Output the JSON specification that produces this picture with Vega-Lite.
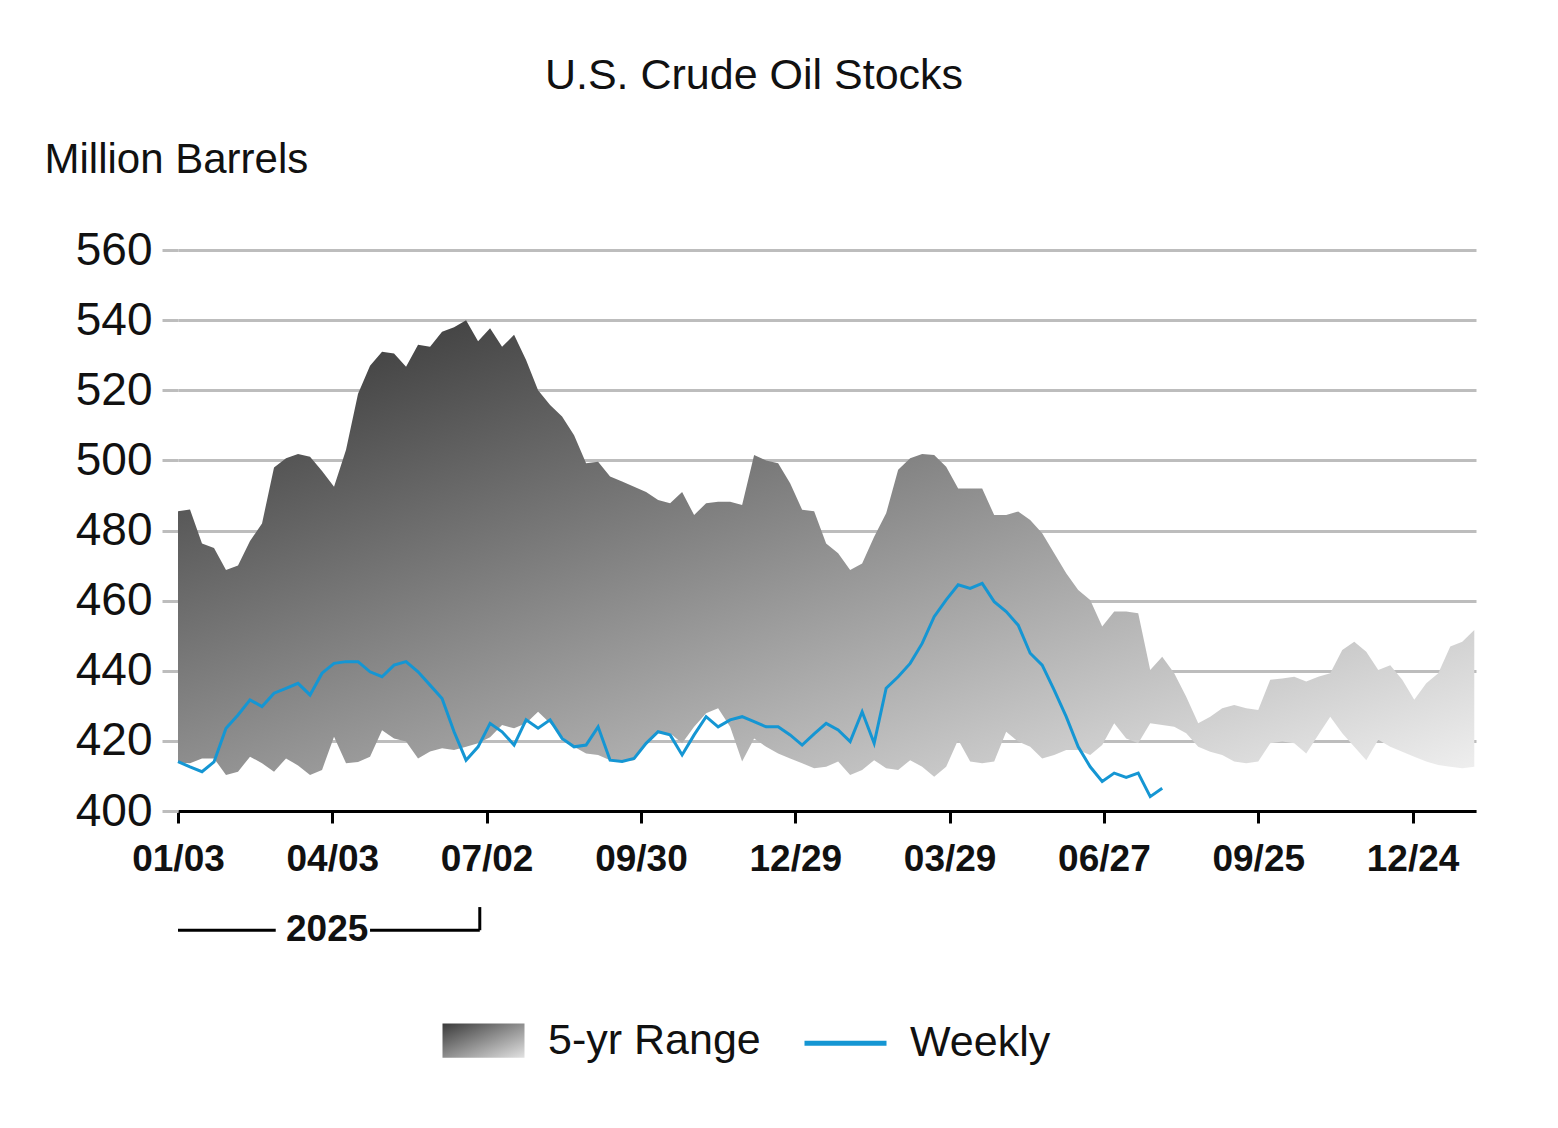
{
  "$schema": "https://vega.github.io/schema/vega-lite/v6.json",
  "width": 1298,
  "height": 561,
  "autosize": "none",
  "padding": {"left": 178, "top": 250, "right": 82, "bottom": 317},
  "background": "white",
  "config": {"font": "Liberation Sans", "view": {"stroke": null}},
  "title": {
    "text": "U.S. Crude Oil Stocks",
    "fontSize": 43,
    "fontWeight": "normal",
    "color": "#111111",
    "anchor": "middle",
    "frame": "bounds",
    "dx": -6,
    "offset": 40
  },
  "datasets": {
    "range": [
      {"date": "2025-01-03", "upper": 485.5, "lower": 413.8, "weekly": 414.1},
      {"date": "2025-01-10", "upper": 486.0, "lower": 413.6, "weekly": 412.6},
      {"date": "2025-01-17", "upper": 476.3, "lower": 415.0, "weekly": 411.2},
      {"date": "2025-01-24", "upper": 475.0, "lower": 415.0, "weekly": 414.0},
      {"date": "2025-01-31", "upper": 468.7, "lower": 410.3, "weekly": 423.6},
      {"date": "2025-02-07", "upper": 470.0, "lower": 411.2, "weekly": 427.4},
      {"date": "2025-02-14", "upper": 477.0, "lower": 415.5, "weekly": 431.7},
      {"date": "2025-02-21", "upper": 482.0, "lower": 413.6, "weekly": 429.8},
      {"date": "2025-02-28", "upper": 498.0, "lower": 411.2, "weekly": 433.6},
      {"date": "2025-03-07", "upper": 500.6, "lower": 415.0, "weekly": 435.0},
      {"date": "2025-03-14", "upper": 501.8, "lower": 413.0, "weekly": 436.4},
      {"date": "2025-03-21", "upper": 501.0, "lower": 410.3, "weekly": 433.1},
      {"date": "2025-03-28", "upper": 497.0, "lower": 411.7, "weekly": 439.3},
      {"date": "2025-04-04", "upper": 492.5, "lower": 421.2, "weekly": 442.1},
      {"date": "2025-04-11", "upper": 503.0, "lower": 413.6, "weekly": 442.6},
      {"date": "2025-04-18", "upper": 519.0, "lower": 414.0, "weekly": 442.6},
      {"date": "2025-04-25", "upper": 527.0, "lower": 415.5, "weekly": 439.7},
      {"date": "2025-05-02", "upper": 531.0, "lower": 423.0, "weekly": 438.3},
      {"date": "2025-05-09", "upper": 530.5, "lower": 420.7, "weekly": 441.6},
      {"date": "2025-05-16", "upper": 526.7, "lower": 419.8, "weekly": 442.6},
      {"date": "2025-05-23", "upper": 533.0, "lower": 415.0, "weekly": 439.7},
      {"date": "2025-05-30", "upper": 532.4, "lower": 417.0, "weekly": 435.9},
      {"date": "2025-06-06", "upper": 536.7, "lower": 417.9, "weekly": 432.1},
      {"date": "2025-06-13", "upper": 538.0, "lower": 417.4, "weekly": 422.6},
      {"date": "2025-06-20", "upper": 540.0, "lower": 418.3, "weekly": 414.5},
      {"date": "2025-06-27", "upper": 534.0, "lower": 419.3, "weekly": 418.3},
      {"date": "2025-07-04", "upper": 537.7, "lower": 421.0, "weekly": 425.0},
      {"date": "2025-07-11", "upper": 532.4, "lower": 424.5, "weekly": 422.6},
      {"date": "2025-07-18", "upper": 535.8, "lower": 423.6, "weekly": 418.8},
      {"date": "2025-07-25", "upper": 528.6, "lower": 425.0, "weekly": 426.0},
      {"date": "2025-08-01", "upper": 520.0, "lower": 428.3, "weekly": 423.6},
      {"date": "2025-08-08", "upper": 515.8, "lower": 425.0, "weekly": 426.0},
      {"date": "2025-08-15", "upper": 512.5, "lower": 421.2, "weekly": 420.7},
      {"date": "2025-08-22", "upper": 507.2, "lower": 418.3, "weekly": 418.3},
      {"date": "2025-08-29", "upper": 499.2, "lower": 416.4, "weekly": 418.8},
      {"date": "2025-09-05", "upper": 499.6, "lower": 416.0, "weekly": 424.0},
      {"date": "2025-09-12", "upper": 495.4, "lower": 414.5, "weekly": 414.5},
      {"date": "2025-09-19", "upper": 494.0, "lower": 414.1, "weekly": 414.1},
      {"date": "2025-09-26", "upper": 492.5, "lower": 414.5, "weekly": 415.0},
      {"date": "2025-10-03", "upper": 491.0, "lower": 419.3, "weekly": 419.3},
      {"date": "2025-10-10", "upper": 488.7, "lower": 422.2, "weekly": 422.6},
      {"date": "2025-10-17", "upper": 487.8, "lower": 422.2, "weekly": 421.7},
      {"date": "2025-10-24", "upper": 491.0, "lower": 419.3, "weekly": 416.0},
      {"date": "2025-10-31", "upper": 484.4, "lower": 424.0, "weekly": 421.7},
      {"date": "2025-11-07", "upper": 487.8, "lower": 427.9, "weekly": 426.9},
      {"date": "2025-11-14", "upper": 488.2, "lower": 429.3, "weekly": 424.0},
      {"date": "2025-11-21", "upper": 488.2, "lower": 424.0, "weekly": 426.0},
      {"date": "2025-11-28", "upper": 487.3, "lower": 414.1, "weekly": 426.9},
      {"date": "2025-12-05", "upper": 501.5, "lower": 420.7, "weekly": 425.5},
      {"date": "2025-12-12", "upper": 500.0, "lower": 418.3, "weekly": 424.0},
      {"date": "2025-12-19", "upper": 499.2, "lower": 416.4, "weekly": 424.0},
      {"date": "2025-12-26", "upper": 493.5, "lower": 415.0, "weekly": 421.7},
      {"date": "2026-01-02", "upper": 485.9, "lower": 413.6, "weekly": 418.8},
      {"date": "2026-01-09", "upper": 485.5, "lower": 412.2, "weekly": 422.0},
      {"date": "2026-01-16", "upper": 476.3, "lower": 412.6, "weekly": 425.0},
      {"date": "2026-01-23", "upper": 473.5, "lower": 414.1, "weekly": 423.1},
      {"date": "2026-01-30", "upper": 468.7, "lower": 410.3, "weekly": 419.8},
      {"date": "2026-02-06", "upper": 470.6, "lower": 411.7, "weekly": 428.3},
      {"date": "2026-02-13", "upper": 478.2, "lower": 414.5, "weekly": 419.3},
      {"date": "2026-02-20", "upper": 484.9, "lower": 412.2, "weekly": 435.0},
      {"date": "2026-02-27", "upper": 497.3, "lower": 411.7, "weekly": 438.3},
      {"date": "2026-03-06", "upper": 500.6, "lower": 414.5, "weekly": 442.1},
      {"date": "2026-03-13", "upper": 501.8, "lower": 412.6, "weekly": 447.8},
      {"date": "2026-03-20", "upper": 501.5, "lower": 409.8, "weekly": 455.4},
      {"date": "2026-03-27", "upper": 498.2, "lower": 412.6, "weekly": 460.2},
      {"date": "2026-04-03", "upper": 492.0, "lower": 420.3, "weekly": 464.5},
      {"date": "2026-04-10", "upper": 492.0, "lower": 414.1, "weekly": 463.5},
      {"date": "2026-04-17", "upper": 492.0, "lower": 413.6, "weekly": 464.9},
      {"date": "2026-04-24", "upper": 484.4, "lower": 414.1, "weekly": 459.7},
      {"date": "2026-05-01", "upper": 484.4, "lower": 422.6, "weekly": 456.9},
      {"date": "2026-05-08", "upper": 485.4, "lower": 419.8, "weekly": 453.0},
      {"date": "2026-05-15", "upper": 483.0, "lower": 418.3, "weekly": 445.0},
      {"date": "2026-05-22", "upper": 479.2, "lower": 415.0, "weekly": 441.6},
      {"date": "2026-05-29", "upper": 473.5, "lower": 416.0, "weekly": 434.5},
      {"date": "2026-06-05", "upper": 467.8, "lower": 417.4, "weekly": 426.9},
      {"date": "2026-06-12", "upper": 463.0, "lower": 417.4, "weekly": 418.3},
      {"date": "2026-06-19", "upper": 460.2, "lower": 416.0, "weekly": 412.6},
      {"date": "2026-06-26", "upper": 452.6, "lower": 418.8, "weekly": 408.4},
      {"date": "2026-07-03", "upper": 456.9, "lower": 425.0, "weekly": 410.8},
      {"date": "2026-07-10", "upper": 456.9, "lower": 420.7, "weekly": 409.6},
      {"date": "2026-07-17", "upper": 456.4, "lower": 419.3, "weekly": 410.8},
      {"date": "2026-07-24", "upper": 440.2, "lower": 425.0, "weekly": 404.1},
      {"date": "2026-07-31", "upper": 444.0, "lower": 424.5, "weekly": 406.5},
      {"date": "2026-08-07", "upper": 439.3, "lower": 424.0, "weekly": null},
      {"date": "2026-08-14", "upper": 432.6, "lower": 422.2, "weekly": null},
      {"date": "2026-08-21", "upper": 425.0, "lower": 418.3, "weekly": null},
      {"date": "2026-08-28", "upper": 426.9, "lower": 416.9, "weekly": null},
      {"date": "2026-09-04", "upper": 429.3, "lower": 416.0, "weekly": null},
      {"date": "2026-09-11", "upper": 430.2, "lower": 414.1, "weekly": null},
      {"date": "2026-09-18", "upper": 429.3, "lower": 413.6, "weekly": null},
      {"date": "2026-09-25", "upper": 428.8, "lower": 414.1, "weekly": null},
      {"date": "2026-10-02", "upper": 437.4, "lower": 419.3, "weekly": null},
      {"date": "2026-10-09", "upper": 437.8, "lower": 419.8, "weekly": null},
      {"date": "2026-10-16", "upper": 438.3, "lower": 419.3, "weekly": null},
      {"date": "2026-10-23", "upper": 436.9, "lower": 416.4, "weekly": null},
      {"date": "2026-10-30", "upper": 438.3, "lower": 421.7, "weekly": null},
      {"date": "2026-11-06", "upper": 439.3, "lower": 426.9, "weekly": null},
      {"date": "2026-11-13", "upper": 445.9, "lower": 422.2, "weekly": null},
      {"date": "2026-11-20", "upper": 448.3, "lower": 418.3, "weekly": null},
      {"date": "2026-11-27", "upper": 445.4, "lower": 414.5, "weekly": null},
      {"date": "2026-12-04", "upper": 440.2, "lower": 420.3, "weekly": null},
      {"date": "2026-12-11", "upper": 441.6, "lower": 418.3, "weekly": null},
      {"date": "2026-12-18", "upper": 437.4, "lower": 416.9, "weekly": null},
      {"date": "2026-12-25", "upper": 431.7, "lower": 415.5, "weekly": null},
      {"date": "2027-01-01", "upper": 436.4, "lower": 414.1, "weekly": null},
      {"date": "2027-01-08", "upper": 439.3, "lower": 413.1, "weekly": null},
      {"date": "2027-01-15", "upper": 446.9, "lower": 412.6, "weekly": null},
      {"date": "2027-01-22", "upper": 448.3, "lower": 412.2, "weekly": null},
      {"date": "2027-01-29", "upper": 451.6, "lower": 412.6, "weekly": null}
    ],
    "bracket": [
      {"x": "2025-01-03", "x2": "2025-03-01", "y": 366, "y2": 366},
      {"x": "2025-04-25", "x2": "2025-06-28", "y": 366, "y2": 366},
      {"x": "2025-06-28", "x2": "2025-06-28", "y": 366, "y2": 372.6}
    ],
    "yearlabel": [
      {"date": "2025-03-31", "y": 366, "label": "2025"}
    ]
  },
  "layer": [
    {
      "data": {"name": "range"},
      "mark": {
        "type": "area",
        "opacity": 1,
        "fill": {
          "gradient": "linear",
          "x1": 0, "y1": 0, "x2": 1, "y2": 1,
          "stops": [
            {"offset": 0, "color": "#303030"},
            {"offset": 1, "color": "#f0f0f0"}
          ]
        }
      },
      "encoding": {
        "x": {
          "field": "date",
          "type": "temporal",
          "title": null,
          "scale": {
            "type": "utc",
            "nice": false,
            "domain": [
              {"year": 2025, "month": 1, "date": 3, "utc": true},
              {"year": 2027, "month": 1, "date": 30, "utc": true}
            ]
          },
          "axis": {
            "values": [
              {"year": 2025, "month": 1, "date": 3, "utc": true},
              {"year": 2025, "month": 4, "date": 3, "utc": true},
              {"year": 2025, "month": 7, "date": 2, "utc": true},
              {"year": 2025, "month": 9, "date": 30, "utc": true},
              {"year": 2025, "month": 12, "date": 29, "utc": true},
              {"year": 2026, "month": 3, "date": 29, "utc": true},
              {"year": 2026, "month": 6, "date": 27, "utc": true},
              {"year": 2026, "month": 9, "date": 25, "utc": true},
              {"year": 2026, "month": 12, "date": 24, "utc": true}
            ],
            "labelExpr": "utcFormat(datum.value, '%m/%d')",
            "grid": false,
            "domainColor": "#000000",
            "domainWidth": 3,
            "tickColor": "#000000",
            "tickWidth": 3,
            "tickSize": 12,
            "labelFont": "Liberation Sans",
            "labelFontSize": 37,
            "labelFontWeight": "bold",
            "labelColor": "#111111",
            "labelPadding": 18,
            "labelFlush": false,
            "labelOverlap": false,
            "labelBound": false
          }
        },
        "y": {
          "field": "upper",
          "type": "quantitative",
          "title": "Million Barrels",
          "scale": {"domain": [400, 560], "nice": false, "zero": false},
          "axis": {
            "values": [400, 420, 440, 460, 480, 500, 520, 540, 560],
            "domain": false,
            "grid": true,
            "gridColor": "#bdbdbd",
            "gridWidth": 3,
            "tickColor": "#bdbdbd",
            "tickWidth": 3,
            "tickSize": 16,
            "labelFont": "Liberation Sans",
            "labelFontSize": 46,
            "labelColor": "#111111",
            "labelPadding": 10,
            "titleFont": "Liberation Sans",
            "titleFontSize": 42,
            "titleFontWeight": "normal",
            "titleColor": "#111111",
            "titleAngle": 0,
            "titleAlign": "left",
            "titleBaseline": "alphabetic",
            "titleX": -134,
            "titleY": -78
          }
        },
        "y2": {"field": "lower"}
      }
    },
    {
      "data": {"name": "range"},
      "mark": {"type": "line", "strokeWidth": 3},
      "encoding": {
        "x": {"field": "date", "type": "temporal", "title": null},
        "y": {"field": "weekly", "type": "quantitative", "title": "Million Barrels"},
        "stroke": {
          "datum": "Weekly",
          "type": "nominal",
          "scale": {"domain": ["5-yr Range", "Weekly"], "range": ["transparent", "#1596d3"]},
          "legend": {
            "title": null,
            "orient": "none",
            "legendX": 262,
            "legendY": 747,
            "direction": "horizontal",
            "padding": 0,
            "symbolSize": 6724,
            "symbolType": "M-1,-0.42H1V0.42H-1Z",
            "symbolStrokeWidth": 5,
            "labelFont": "Liberation Sans",
            "labelFontSize": 43,
            "labelColor": "#111111",
            "labelOffset": 21,
            "labelLimit": 400,
            "columnPadding": 33,
            "encode": {
              "symbols": {
                "update": {
                  "shape": {"signal": "datum.value === 'Weekly' ? 'M-1,0H1' : 'M-1,-0.42H1V0.42H-1Z'"},
                  "fill": [
                    {"test": "datum.value === 'Weekly'", "value": "transparent"},
                    {"value": {
                      "gradient": "linear",
                      "x1": 0, "y1": 0, "x2": 1, "y2": 1,
                      "stops": [
                        {"offset": 0, "color": "#3a3a3a"},
                        {"offset": 1, "color": "#e2e2e2"}
                      ]
                    }}
                  ],
                  "strokeWidth": {"value": 5},
                  "opacity": {"value": 1}
                }
              }
            }
          }
        }
      }
    },
    {
      "data": {"name": "bracket"},
      "mark": {"type": "rule", "color": "#000000", "strokeWidth": 3},
      "encoding": {
        "x": {"field": "x", "type": "temporal", "title": null},
        "x2": {"field": "x2"},
        "y": {"field": "y", "type": "quantitative", "title": "Million Barrels"},
        "y2": {"field": "y2"}
      }
    },
    {
      "data": {"name": "yearlabel"},
      "mark": {"type": "text", "font": "Liberation Sans", "fontSize": 37, "fontWeight": "bold", "color": "#111111", "baseline": "middle", "align": "center"},
      "encoding": {
        "x": {"field": "date", "type": "temporal", "title": null},
        "y": {"field": "y", "type": "quantitative", "title": "Million Barrels"},
        "text": {"field": "label"}
      }
    }
  ]
}
